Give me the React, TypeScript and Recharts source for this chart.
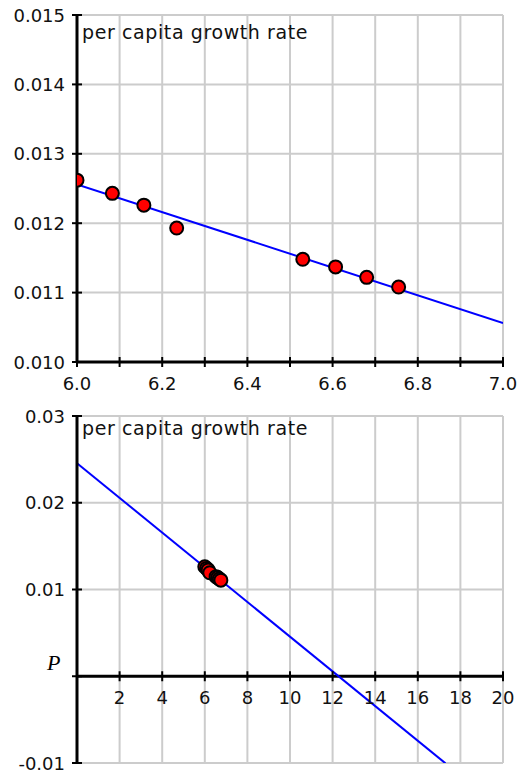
import { ComposedChart, Line, Scatter, XAxis, YAxis, CartesianGrid, ReferenceLine } from "recharts";

// population (billions) and per capita growth rate
const population = [6.0, 6.083, 6.157, 6.234, 6.53, 6.607, 6.68, 6.755];
const growthRate = [0.01262, 0.01243, 0.01226, 0.01193, 0.01148, 0.01137, 0.01122, 0.01108];

// fitted line
const zoomFitP = [6.0, 7.0];
const zoomFitRate = [0.01256, 0.01056];
const fullFitP = [0, 17.3];
const fullFitRate = [0.02456, -0.01004];

const zoomXTicks = [6.0, 6.1, 6.2, 6.3, 6.4, 6.5, 6.6, 6.7, 6.8, 6.9, 7.0];
const zoomYTicks = [0.01, 0.011, 0.012, 0.013, 0.014, 0.015];
const fullXTicks = [0, 2, 4, 6, 8, 10, 12, 14, 16, 18, 20];
const fullYTicks = [-0.01, 0, 0.01, 0.02, 0.03];

const points = population.map((p, i) => ({ x: p, y: growthRate[i] }));
const zoomFit = zoomFitP.map((p, i) => ({ x: p, y: zoomFitRate[i] }));
const fullFit = fullFitP.map((p, i) => ({ x: p, y: fullFitRate[i] }));

const FONT = "DejaVu Sans";
const W = 519;
const Y_AXIS_W = 77;
const PLOT_H = 347;
const GAP = 12;
const FULL_Y = [-0.01, 0.03];

function YTick(props: any) {
  const { x, y, payload, digits } = props;
  const ax = x + GAP;
  const v = payload.value;
  return (
    <g>
      <line x1={ax - 5} x2={ax + 5} y1={y} y2={y} stroke="#000" strokeWidth={2} />
      {Math.abs(v) > 1e-9 && (
        <text x={x} y={y} textAnchor="end" dominantBaseline="central" fontFamily={FONT} fontSize={18} fill="#111">
          {v.toFixed(digits)}
        </text>
      )}
    </g>
  );
}

function XTick(props: any) {
  const { x, y, payload, every, digits, shift } = props;
  const ay = y - (shift || 0);
  const v = payload.value;
  const idx = Math.round(v * 1000);
  const showLabel = idx % every === 0 && !(shift && v === 0);
  return (
    <g>
      <line x1={x} x2={x} y1={ay - 5} y2={ay + 5} stroke="#000" strokeWidth={2} />
      {showLabel && (
        <text x={x} y={ay + 21} textAnchor="middle" dominantBaseline="central" fontFamily={FONT} fontSize={18} fill="#111">
          {v.toFixed(digits)}
        </text>
      )}
    </g>
  );
}

const title = (top: number) => (
  <div
    style={{
      position: "absolute",
      left: 82,
      top,
      fontFamily: FONT,
      fontSize: 19,
      letterSpacing: 0.6,
      lineHeight: 1,
      color: "#111",
    }}
  >
    per capita growth rate
  </div>
);

const dot = (p: any) => <circle cx={p.cx} cy={p.cy} r={6.5} fill="#ff0000" stroke="#000" strokeWidth={2} />;

export default function App() {
  const zeroShift = (PLOT_H * (0 - FULL_Y[0])) / (FULL_Y[1] - FULL_Y[0]);
  return (
    <div style={{ position: "absolute", left: 0, top: 0, width: W, height: 775, background: "#fff" }}>
      <div style={{ position: "absolute", left: 0, top: 390 }}>
        <ComposedChart width={W} height={26 + PLOT_H + 12} margin={{ top: 26, right: 16, bottom: 0, left: 0 }}>
          <CartesianGrid stroke="#cccccc" strokeWidth={2} />
          <XAxis
            dataKey="x"
            type="number"
            domain={[0, 20]}
            ticks={fullXTicks}
            allowDataOverflow
            height={12}
            tickSize={0}
            tickMargin={0}
            tickLine={false}
            axisLine={false}
            tick={<XTick every={2000} digits={0} shift={zeroShift} />}
          />
          <YAxis
            type="number"
            domain={FULL_Y}
            ticks={fullYTicks}
            allowDataOverflow
            width={Y_AXIS_W}
            tickSize={0}
            tickMargin={GAP}
            tickLine={false}
            axisLine={{ stroke: "#000", strokeWidth: 3 }}
            tick={<YTick digits={2} />}
          />
          <ReferenceLine y={0} stroke="#000" strokeWidth={3} />
          <Line data={fullFit} dataKey="y" stroke="#0000ff" strokeWidth={2} dot={false} isAnimationActive={false} />
          <Scatter data={points} dataKey="y" shape={dot} isAnimationActive={false} />
        </ComposedChart>
        {title(29)}
        <div
          style={{
            position: "absolute",
            left: 47,
            top: 262,
            fontFamily: "Liberation Serif",
            fontStyle: "italic",
            fontSize: 22,
            lineHeight: 1,
          }}
        >
          P
        </div>
      </div>
      <div style={{ position: "absolute", left: 0, top: 0 }}>
        <ComposedChart width={W} height={15 + PLOT_H + 40} margin={{ top: 15, right: 16, bottom: 0, left: 0 }}>
          <CartesianGrid stroke="#cccccc" strokeWidth={2} />
          <XAxis
            dataKey="x"
            type="number"
            domain={[6, 7]}
            ticks={zoomXTicks}
            allowDataOverflow
            height={40}
            tickSize={0}
            tickMargin={0}
            tickLine={false}
            axisLine={{ stroke: "#000", strokeWidth: 3 }}
            tick={<XTick every={200} digits={1} />}
          />
          <YAxis
            type="number"
            domain={[0.01, 0.015]}
            ticks={zoomYTicks}
            allowDataOverflow
            width={Y_AXIS_W}
            tickSize={0}
            tickMargin={GAP}
            tickLine={false}
            axisLine={{ stroke: "#000", strokeWidth: 3 }}
            tick={<YTick digits={3} />}
          />
          <Line data={zoomFit} dataKey="y" stroke="#0000ff" strokeWidth={2} dot={false} isAnimationActive={false} />
          <Scatter data={points} dataKey="y" shape={dot} isAnimationActive={false} />
        </ComposedChart>
        {title(23)}
      </div>
    </div>
  );
}
